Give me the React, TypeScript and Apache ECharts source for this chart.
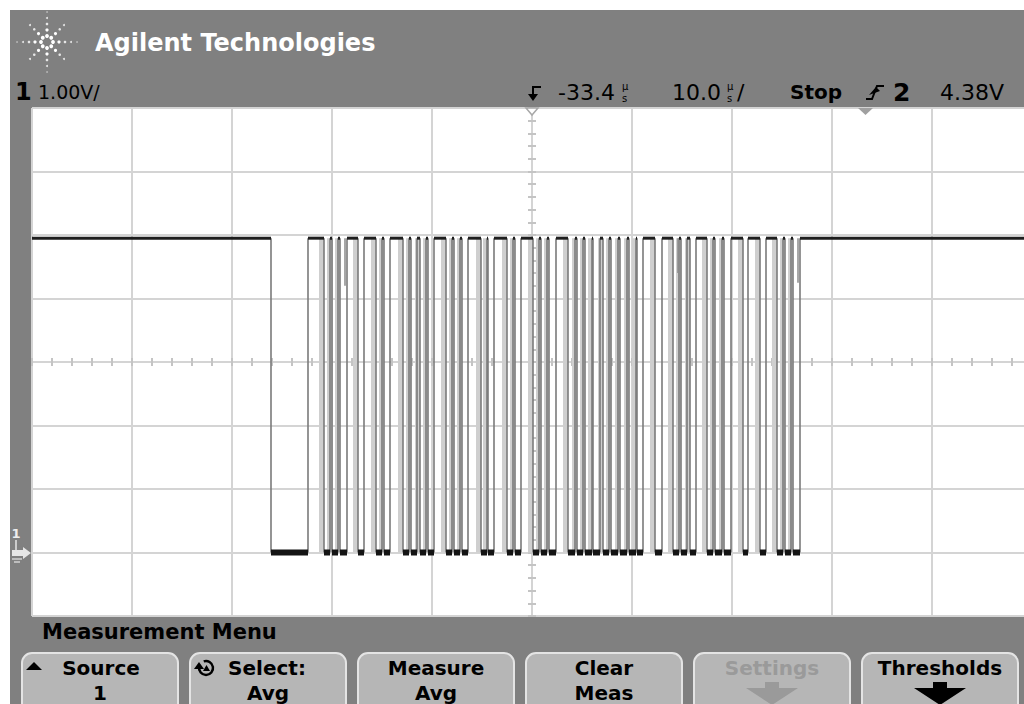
import React, { useEffect, useRef } from "react";
import * as echarts from "echarts";

// ---------------- data ----------------
// time in µs measured from the left edge of the screen (10 div × 10.0 µs/div)
const T_MIN = 0;
const T_MAX = 100;
const T_DIV = 10;
// volts (1.00 V/div, ground 3 div below centre)
const V_MIN = -1;
const V_MAX = 7;
const V_DIV = 1;
const HIGH_V = 4.95;
const LOW_V = 0;

// low periods of the captured serial burst: [fall µs, rise µs]
const lowPulses: [number, number][] = [
  [23.9, 27.6], [29.2, 29.8], [30.0, 30.6], [30.8, 31.5], [32.6, 33.2],
  [34.4, 35.0], [35.2, 35.8], [37.1, 37.7], [37.9, 38.5], [38.8, 39.4],
  [39.6, 40.2], [41.4, 42.0], [42.2, 42.8], [43.0, 43.6], [44.9, 45.5],
  [45.6, 46.2], [47.5, 48.1], [48.3, 48.9], [50.1, 50.7], [50.9, 51.5],
  [51.7, 52.4], [53.6, 54.3], [54.5, 55.1], [55.3, 56.0], [56.1, 56.8],
  [57.1, 57.7], [57.9, 58.6], [58.8, 59.5], [59.7, 60.4], [60.5, 61.1],
  [62.3, 63.0], [64.1, 64.7], [64.9, 65.5], [65.8, 66.4], [67.5, 68.1],
  [68.3, 69.0], [69.2, 69.9], [71.1, 71.6], [72.8, 73.4], [74.5, 75.1],
  [75.3, 75.9], [76.1, 76.8],
];
// partial (glitch) edges from the high level down to a voltage: [µs, volts]
const glitches: [number, number][] = [
  [31.3, 4.2], [58.6, 4.5], [64.6, 4.4], [76.6, 4.25],
];

const buttonTop = ["Source", "Select:", "Measure", "Clear", "Settings", "Thresholds"];
const buttonBottom = ["1", "Avg", "Avg", "Meas", "", ""];

// ---------------- derived series data ----------------
const highSegs: number[][] = [];
{
  let prev = T_MIN;
  for (const [s, e] of lowPulses) {
    highSegs.push([prev, s, HIGH_V]);
    prev = e;
  }
  highSegs.push([prev, T_MAX, HIGH_V]);
}
const lowSegs = lowPulses.map(([s, e]) => [s, e, LOW_V]);
const edges = lowPulses.flatMap(([s, e]) => [
  [s, HIGH_V, LOW_V],
  [e, HIGH_V, LOW_V],
]);
const bands = lowPulses.slice(1).map(([s]) => [s, HIGH_V, LOW_V]);
const glitchData = glitches.map(([t, v]) => [t, HIGH_V, v]);

const FONT = '"DejaVu Sans", Verdana, sans-serif';

function segRender(width: number, color: string) {
  return (_p: any, api: any) => {
    const a = api.coord([api.value(0), api.value(2)]);
    const b = api.coord([api.value(1), api.value(2)]);
    return {
      type: "line",
      shape: { x1: a[0], y1: a[1], x2: b[0], y2: b[1] },
      style: { stroke: color, lineWidth: width },
    };
  };
}
function edgeRender(width: number, color: string) {
  return (_p: any, api: any) => {
    const a = api.coord([api.value(0), api.value(1)]);
    const b = api.coord([api.value(0), api.value(2)]);
    return {
      type: "line",
      shape: { x1: a[0], y1: a[1], x2: b[0], y2: b[1] },
      style: { stroke: color, lineWidth: width },
    };
  };
}
function bandRender(_p: any, api: any) {
  const a = api.coord([api.value(0), api.value(1)]);
  const b = api.coord([api.value(0), api.value(2)]);
  return {
    type: "rect",
    shape: { x: a[0] - 5, y: a[1], width: 5, height: b[1] - a[1] },
    style: { fill: "#cfcfcf" },
  };
}

function txt(text: string, x: number, y: number, size: number, opts: any = {}) {
  return {
    type: "text",
    x,
    y,
    z: 100,
    style: {
      text,
      fill: opts.fill || "#000",
      fontSize: size,
      fontWeight: opts.bold ? "bold" : "normal",
      fontFamily: FONT,
      lineHeight: opts.lineHeight,
      align: opts.align || "left",
      textAlign: opts.align || "left",
      verticalAlign: "middle",
      textVerticalAlign: "middle",
    },
  };
}

function buildGraphics() {
  const g: any[] = [];
  const gray = "#808080";
  // instrument frame
  g.push({ type: "rect", shape: { x: 10, y: 10, width: 1014, height: 98 }, style: { fill: gray } });
  g.push({ type: "rect", shape: { x: 10, y: 108, width: 22, height: 508 }, style: { fill: gray } });
  g.push({ type: "rect", shape: { x: 10, y: 616, width: 1014, height: 88 }, style: { fill: gray } });

  // Agilent logo (spark of dots)
  const cx = 47, cy = 42;
  for (let k = 0; k < 8; k++) {
    const ang = (k * Math.PI) / 4;
    const diag = k % 2 === 1;
    const radii = diag ? [6, 12, 18, 24] : [6, 12, 18, 24, 30];
    radii.forEach((r, i) => {
      g.push({
        type: "circle",
        shape: { cx: cx + r * Math.cos(ang), cy: cy + r * Math.sin(ang), r: Math.max(0.7, 1.9 - i * 0.3) },
        style: { fill: i < 2 ? "#ffffff" : "#e6e6e6" },
        z: 50,
      });
    });
  }
  g.push(txt("Agilent Technologies", 95, 43, 24, { bold: true, fill: "#ffffff" }));

  // status line
  const sy = 92;
  g.push(txt("1", 15, sy, 24, { bold: true }));
  g.push(txt("1.00V/", 38, sy, 19));
  // trigger position icon
  g.push({ type: "polyline", shape: { points: [[541, 87], [533, 87], [533, 97]] }, style: { stroke: "#000", lineWidth: 2, fill: "none" }, z: 60 });
  g.push({ type: "polygon", shape: { points: [[528, 94], [538, 94], [533, 101]] }, style: { fill: "#000" }, z: 60 });
  g.push(txt("-33.4", 558, sy, 22));
  g.push(txt("µ\ns", 622, sy, 10, { lineHeight: 12 }));
  g.push(txt("10.0", 672, sy, 22));
  g.push(txt("µ\ns", 727, sy, 10, { lineHeight: 12 }));
  g.push(txt("/", 737, sy, 22));
  g.push(txt("Stop", 790, sy, 20, { bold: true }));
  // trigger slope icon
  g.push({ type: "polyline", shape: { points: [[866, 99], [872, 99], [877, 86], [884, 86]] }, style: { stroke: "#000", lineWidth: 2, fill: "none" }, z: 60 });
  g.push({ type: "polygon", shape: { points: [[869, 95], [880, 91], [876, 87]] }, style: { fill: "#000" }, z: 60 });
  g.push(txt("2", 893, sy, 25, { bold: true }));
  g.push(txt("4.38V", 940, sy, 22));

  // reference markers on the top edge of the graticule
  g.push({ type: "polygon", shape: { points: [[526, 108], [538, 108], [532, 115]] }, style: { fill: "#ffffff", stroke: "#a8a8a8", lineWidth: 1.5 }, z: 60 });
  g.push({ type: "polygon", shape: { points: [[858, 108], [873, 108], [865.5, 115]] }, style: { fill: "#a0a0a0" }, z: 60 });

  // channel 1 ground marker
  g.push(txt("1", 16, 533, 13, { bold: true, fill: "#eeeeee", align: "center" }));
  g.push({ type: "line", shape: { x1: 16, y1: 540, x2: 16, y2: 550 }, style: { stroke: "#e6e6e6", lineWidth: 1.5 }, z: 60 });
  g.push({ type: "polygon", shape: { points: [[12, 550], [23, 550], [23, 547], [31, 553], [23, 559], [23, 556], [12, 556]] }, style: { fill: "#e6e6e6" }, z: 60 });
  g.push({ type: "line", shape: { x1: 12, y1: 559, x2: 22, y2: 559 }, style: { stroke: "#e6e6e6", lineWidth: 1.2 }, z: 60 });
  g.push({ type: "line", shape: { x1: 14, y1: 562, x2: 20, y2: 562 }, style: { stroke: "#e6e6e6", lineWidth: 1.2 }, z: 60 });

  // softkey menu
  g.push(txt("Measurement Menu", 42, 632, 21, { bold: true }));
  const bx0 = 22, bstep = 168, bw = 156;
  buttonTop.forEach((label, i) => {
    const x = bx0 + i * bstep;
    const c = x + bw / 2;
    g.push({
      type: "rect",
      shape: { x, y: 653, width: bw, height: 62, r: 10 },
      style: { fill: "#b6b6b6", stroke: "#e4e4e4", lineWidth: 2 },
      z: 40,
    });
    const disabled = label === "Settings";
    const tc = disabled ? "#9a9a9a" : "#000";
    let tx = c;
    if (i === 0) tx = c + 1;
    if (i === 1) tx = c - 1;
    g.push(txt(label, tx, 668, 20, { bold: true, fill: tc, align: "center" }));
    if (buttonBottom[i]) g.push(txt(buttonBottom[i], c, 693, 20, { bold: true, fill: tc, align: "center" }));
    if (i >= 4) {
      g.push({
        type: "polygon",
        shape: { points: [[c - 7, 682], [c + 7, 682], [c + 7, 688], [c + 26, 688], [c, 705], [c - 26, 688], [c - 7, 688]] },
        style: { fill: tc },
        z: 60,
      });
    }
  });
  // source triangle
  g.push({ type: "polygon", shape: { points: [[26, 670], [42, 670], [34, 662]] }, style: { fill: "#000" }, z: 60 });
  // select rotary icon: open circle with arrowhead and small triangle inside
  const ix = 206, iy = 668;
  g.push({ type: "arc", shape: { cx: ix, cy: iy, r: 7, startAngle: -1.9, endAngle: 3.3 }, style: { stroke: "#000", lineWidth: 2.5, fill: "none" }, z: 60 });
  g.push({ type: "polygon", shape: { points: [[ix - 12, iy + 1], [ix - 2, iy + 1], [ix - 7, iy - 6]] }, style: { fill: "#000" }, z: 60 });
  g.push({ type: "polygon", shape: { points: [[ix - 3, iy + 3], [ix + 4, iy + 3], [ix + 0.5, iy - 3]] }, style: { fill: "#000" }, z: 60 });
  return g;
}

export default function App() {
  const ref = useRef<HTMLDivElement>(null);
  useEffect(() => {
    if (!ref.current) return;
    const chart = echarts.init(ref.current, undefined, { renderer: "svg" });
    const gridColor = "#d4d4d4";
    const tickStyle = { color: "#c4c4c4", width: 2 };
    const hidden = { show: false };
    chart.setOption({
      animation: false,
      backgroundColor: "#ffffff",
      grid: {
        left: 32,
        top: 108,
        width: 1000,
        height: 508,
        show: true,
        backgroundColor: "#ffffff",
        borderWidth: 0,
        containLabel: false,
        outerBoundsMode: "none",
      },
      xAxis: [
        {
          type: "value", min: T_MIN, max: T_MAX, interval: T_DIV,
          axisLine: hidden, axisTick: hidden, axisLabel: hidden,
          splitLine: { show: true, lineStyle: { color: gridColor, width: 2 } },
        },
        {
          type: "value", min: T_MIN, max: T_MAX, interval: T_DIV / 5, position: "bottom", offset: -254,
          axisLine: hidden, axisLabel: hidden, splitLine: hidden,
          axisTick: { show: true, inside: false, length: 4, lineStyle: tickStyle },
        },
        {
          type: "value", min: T_MIN, max: T_MAX, interval: T_DIV / 5, position: "bottom", offset: -254,
          axisLine: hidden, axisLabel: hidden, splitLine: hidden,
          axisTick: { show: true, inside: true, length: 4, lineStyle: tickStyle },
        },
      ],
      yAxis: [
        {
          type: "value", min: V_MIN, max: V_MAX, interval: V_DIV,
          axisLine: hidden, axisTick: hidden, axisLabel: hidden,
          splitLine: { show: true, lineStyle: { color: gridColor, width: 2 } },
        },
        {
          type: "value", min: V_MIN, max: V_MAX, interval: V_DIV / 5, position: "left", offset: -500,
          axisLine: hidden, axisLabel: hidden, splitLine: hidden,
          axisTick: { show: true, inside: false, length: 4, lineStyle: tickStyle },
        },
        {
          type: "value", min: V_MIN, max: V_MAX, interval: V_DIV / 5, position: "left", offset: -500,
          axisLine: hidden, axisLabel: hidden, splitLine: hidden,
          axisTick: { show: true, inside: true, length: 4, lineStyle: tickStyle },
        },
      ],
      series: [
        {
          type: "custom", name: "jitter", xAxisIndex: 0, yAxisIndex: 0, clip: true,
          renderItem: bandRender, encode: { x: 0, y: [1, 2] }, data: bands, z: 3,
        },
        {
          type: "custom", name: "edges", xAxisIndex: 0, yAxisIndex: 0, clip: true,
          renderItem: edgeRender(1.6, "#7a7a7a"), encode: { x: 0, y: [1, 2] }, data: edges, z: 4,
        },
        {
          type: "custom", name: "glitches", xAxisIndex: 0, yAxisIndex: 0, clip: true,
          renderItem: edgeRender(1.5, "#8a8a8a"), encode: { x: 0, y: [1, 2] }, data: glitchData, z: 4,
        },
        {
          type: "custom", name: "high", xAxisIndex: 0, yAxisIndex: 0, clip: true,
          renderItem: segRender(3, "#1e1e1e"), encode: { x: [0, 1], y: 2 }, data: highSegs, z: 5,
        },
        {
          type: "custom", name: "low", xAxisIndex: 0, yAxisIndex: 0, clip: true,
          renderItem: segRender(6, "#141414"), encode: { x: [0, 1], y: 2 }, data: lowSegs, z: 5,
        },
      ],
      graphic: { elements: buildGraphics() },
    });
    return () => chart.dispose();
  }, []);
  return (
    <div
      ref={ref}
      style={{ position: "fixed", left: 0, top: 0, width: 1024, height: 704, background: "#fff" }}
    />
  );
}
